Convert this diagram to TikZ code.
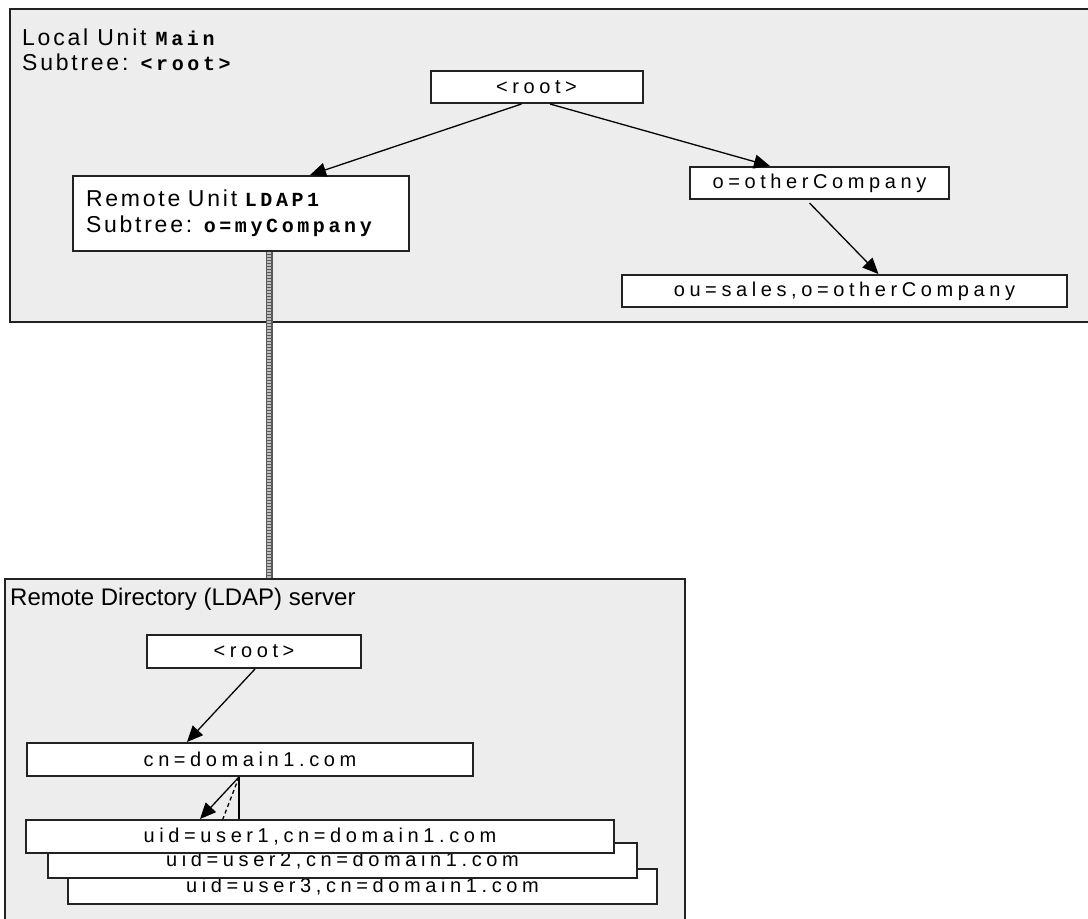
\documentclass[tikz,border=0pt]{standalone}
\usepackage{fontspec}
\setmainfont{Liberation Sans}
\newfontfamily\boxfont[LetterSpace=23]{Liberation Sans}
\newfontfamily\headfont[LetterSpace=12]{Liberation Sans}
\newfontfamily\keyfont[LetterSpace=18]{Liberation Mono}
\usetikzlibrary{arrows.meta,positioning,calc}
\definecolor{panelGray}{RGB}{237,237,237}
\definecolor{inkDark}{RGB}{34,34,34}
\newcommand{\keyword}[1]{{\keyfont\bfseries\fontsize{20}{24}\selectfont #1}}
\tikzset{
  unit panel/.style={draw=inkDark,fill=panelGray,line width=2pt,inner sep=0pt},
  entry node/.style={draw=inkDark,fill=white,line width=2pt,inner sep=0pt,minimum height=32pt,font=\boxfont\fontsize{20}{24}\selectfont},
  head text/.style={inner sep=0pt,anchor=base west,font=\headfont\fontsize{23}{26}\selectfont},
  tree arrow/.style={-{Triangle[length=16pt,width=14pt]},line width=1.3pt,draw=black},
  remote link/.style={line width=7pt,draw=black!65}
}

\begin{document}
\begin{tikzpicture}[x=1pt,y=-1pt]
        \useasboundingbox (0,0) rectangle (1088,919);
        \fill[white] (0,0) rectangle (1088,919);
        % the two units
        \node[unit panel,minimum width=1090pt,minimum height=313pt] (localpanel) at (555,165.5) {};
        \node[unit panel,minimum width=680pt,minimum height=361pt] (dirpanel) at (345,759.5) {};
        \node[head text] (localtitle) at (22,45) {Local Unit \keyword{Main}};
        \node[head text] (localtree) at (22,70) {Subtree: \keyword{<root>}};
        \node[inner sep=0pt,anchor=base west,font=\fontsize{24}{28}\selectfont] (dirtitle) at (10,605) {Remote Directory (LDAP) server};
        % local tree
        \node[entry node,minimum width=212pt] (troot) at (536.5,87) {<root>};
        \node[entry node,minimum width=336pt,minimum height=75pt,text width=310pt,align=left,font=\headfont\fontsize{23}{26}\selectfont] (remote) at (241,213.5) {Remote Unit \keyword{LDAP1}\\Subtree: \keyword{o=myCompany}};
        \node[entry node,minimum width=259pt] (other) at (819.5,183) {o=otherCompany};
        \node[entry node,minimum width=445pt] (sales) at (844.5,291) {ou=sales,o=otherCompany};
        \draw[remote link] ([xshift=28pt]remote.south) -- ([xshift=28pt]remote.south |- dirpanel.north);
        \draw[remote link,draw=black!25,line width=4pt,dash pattern=on 1.5pt off 1.5pt] ([xshift=28pt]remote.south) -- ([xshift=28pt]remote.south |- dirpanel.north);
        \draw[tree arrow] ([xshift=-15pt]troot.south) -- ([xshift=69pt]remote.north);
        \draw[tree arrow] ([xshift=13.5pt]troot.south) -- ([xshift=-49.5pt]other.north);
        \draw[tree arrow] ([xshift=-10pt,yshift=-3pt]other.south) -- ([xshift=34pt]sales.north);
        % remote directory tree
        \node[entry node,minimum width=214pt,minimum height=33pt] (broot) at (254,651.5) {<root>};
        \node[entry node,minimum width=446pt,minimum height=33pt] (cn) at (250,759.5) {cn=domain1.com};
        \draw[tree arrow] ([xshift=1pt]broot.south) -- ([xshift=-63pt]cn.north);
        \node[entry node,minimum width=589pt,minimum height=35pt] (user3) at (362.5,886.5) {uid=user3,cn=domain1.com};
        \draw[tree arrow] ([xshift=-11pt]cn.south) -- ([xshift=-123.5pt]user3.north);
        \node[entry node,minimum width=589pt,minimum height=35pt] (user2) at (342.5,860.5) {uid=user2,cn=domain1.com};
        \draw[tree arrow,dash pattern=on 4pt off 3pt] ([xshift=-11pt]cn.south) -- ([xshift=-128.5pt]user2.north);
        \node[entry node,minimum width=588pt,minimum height=33pt] (user1) at (320,836.5) {uid=user1,cn=domain1.com};
        \draw[tree arrow] ([xshift=-11pt]cn.south) -- ([xshift=-120pt]user1.north);
\end{tikzpicture}
\end{document}
